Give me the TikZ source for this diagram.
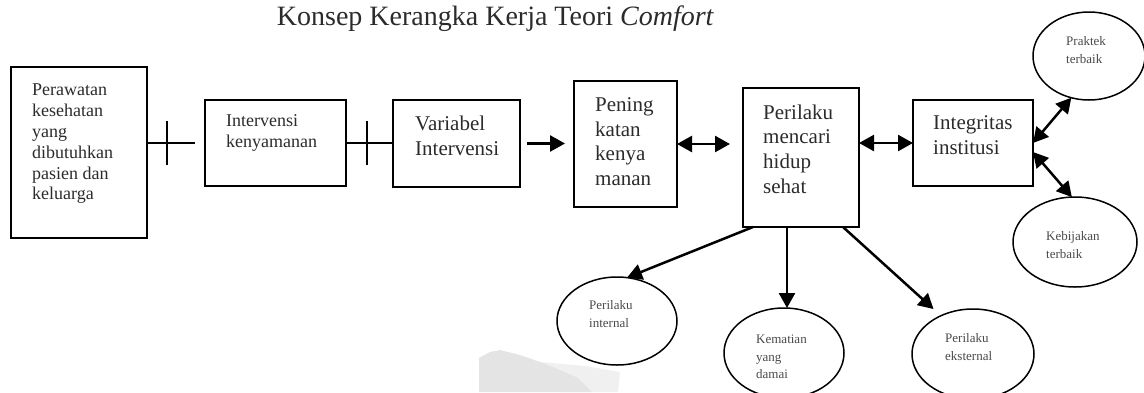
\documentclass[tikz,border=0pt]{standalone}
\usepackage{fontspec}
\setmainfont{Liberation Serif}
\usetikzlibrary{arrows.meta,shapes.geometric,calc}
\definecolor{txt}{HTML}{2B2B2B}
\definecolor{smalltxt}{HTML}{4A4A4A}
\definecolor{wmdark}{HTML}{E4E4E4}
\definecolor{wmlight}{HTML}{F0F0F0}
\begin{document}
\begin{tikzpicture}[x=1pt,y=-1pt,
  box/.style={draw=black,line width=1.6pt,inner sep=0pt,outer sep=0pt},
  oval/.style={ellipse,draw=black,line width=1.5pt,fill=white,inner sep=0pt,outer sep=0pt},
  label18/.style={anchor=west,align=left,inner sep=0pt,text=txt,font=\fontsize{18}{20.8}\selectfont},
  label21/.style={anchor=west,align=left,inner sep=0pt,text=txt,font=\fontsize{21}{24.6}\selectfont},
  label13/.style={anchor=west,align=left,inner sep=0pt,text=smalltxt,font=\fontsize{13}{17.5}\selectfont},
  link/.style={line width=2.5pt},
  arr/.style={line width=2.5pt,-{Triangle[length=15pt,width=16pt]}},
  biarr/.style={line width=2.5pt,{Triangle[length=15pt,width=16pt]}-{Triangle[length=15pt,width=16pt]}}]
\useasboundingbox (0,0) rectangle (1144,392);

% faint watermark in the lower part
\fill[wmlight] (540,362) -- (585,366) -- (620,372) -- (618,392) -- (560,392) -- cycle;
\fill[wmdark] (479,392) -- (479,358) -- (490,352) -- (500,350) -- (520,355) -- (540,362)
  -- (560,370) -- (578,378) -- (592,392) -- cycle;

% title
\node[anchor=base,inner sep=0pt,text=txt,font=\fontsize{28}{32}\selectfont] (title)
  at (495.5,25) {Konsep Kerangka Kerja Teori \textit{Comfort}};

% boxes
\node[box,minimum width=136pt,minimum height=171pt] (b1) at (79,152.5) {};
\node[box,minimum width=141pt,minimum height=86pt] (b2) at (275.5,143) {};
\node[box,minimum width=127pt,minimum height=87pt] (b3) at (456.5,143.5) {};
\node[box,minimum width=103pt,minimum height=126pt] (b4) at (625.5,144) {};
\node[box,minimum width=116pt,minimum height=139pt] (b5) at (801,157.5) {};
\node[box,minimum width=120pt,minimum height=86pt] (b6) at (973,143) {};

% box texts
\node[label18] (t1) at (32,144) {Perawatan\\kesehatan\\yang\\dibutuhkan\\pasien dan\\keluarga};
\node[label18] (t2) at (226,133) {Intervensi\\kenyamanan};
\node[label21] (t3) at (415,136) {Variabel\\Intervensi};
\node[label21] (t4) at (595,141.5) {Pening\\katan\\kenya\\manan};
\node[label21] (t5) at (763,149) {Perilaku\\mencari\\hidup\\sehat};
\node[label21] (t6) at (933,135) {Integritas\\institusi};

% ellipses
\node[oval,minimum width=112pt,minimum height=88pt] (e1) at (1089,56) {};
\node[oval,minimum width=124pt,minimum height=90pt] (e2) at (1075,242) {};
\node[oval,minimum width=120pt,minimum height=88pt] (e3) at (617,321) {};
\node[oval,minimum width=120pt,minimum height=90pt] (e4) at (784,353) {};
\node[oval,minimum width=122pt,minimum height=90pt] (e5) at (973,354) {};

% ellipse texts
\node[label13] (s1) at (1066,50) {Praktek\\terbaik};
\node[label13] (s2) at (1046,245) {Kebijakan\\terbaik};
\node[label13] (s3) at (589,314) {Perilaku\\internal};
\node[label13] (s4) at (756,357) {Kematian\\yang\\damai};
\node[label13] (s5) at (945,347) {Perilaku\\eksternal};

% connectors with a cross bar
\coordinate (c12) at ($(b2.west)+(-10,0)$);
\draw[link] (b1.east |- b2.west) -- (c12);
\coordinate (k12) at (167,143);
\draw[link] ($(k12)+(0,-22)$) -- ($(k12)+(0,22)$);
\draw[link] (b2.east) -- (b3.west |- b2.east);
\coordinate (k23) at (367,143);
\draw[link] ($(k23)+(0,-22)$) -- ($(k23)+(0,22)$);

% arrows between boxes
\draw[arr,shorten <=7pt,shorten >=9pt] (b3.east) -- (b4.west |- b3.east);
\draw[biarr,shorten >=13pt] (b4.east) -- (b5.west |- b4.east);
\draw[biarr] (b6.west) -- (b5.east |- b6.west);

% links to the policy ellipses
\coordinate (i1) at (b6.east);
\coordinate (i2) at ($(b6.east)+(0,9)$);
\draw[biarr] (i1) -- (e1.247);
\draw[biarr] (i2) -- (e2.94);

% outcomes below the behaviour box
\coordinate (o1) at ($(b5.south west)+(10,0)$);
\coordinate (o2) at ($(b5.south west)+(44,0)$);
\coordinate (o3) at ($(b5.south west)+(100,0)$);
\draw[arr] (o1) -- (e3.77);
\draw[arr] (o2) -- (o2 |- e4.north);
\draw[arr,shorten >=10pt] (o3) -- (e5.130);
\end{tikzpicture}
\end{document}
